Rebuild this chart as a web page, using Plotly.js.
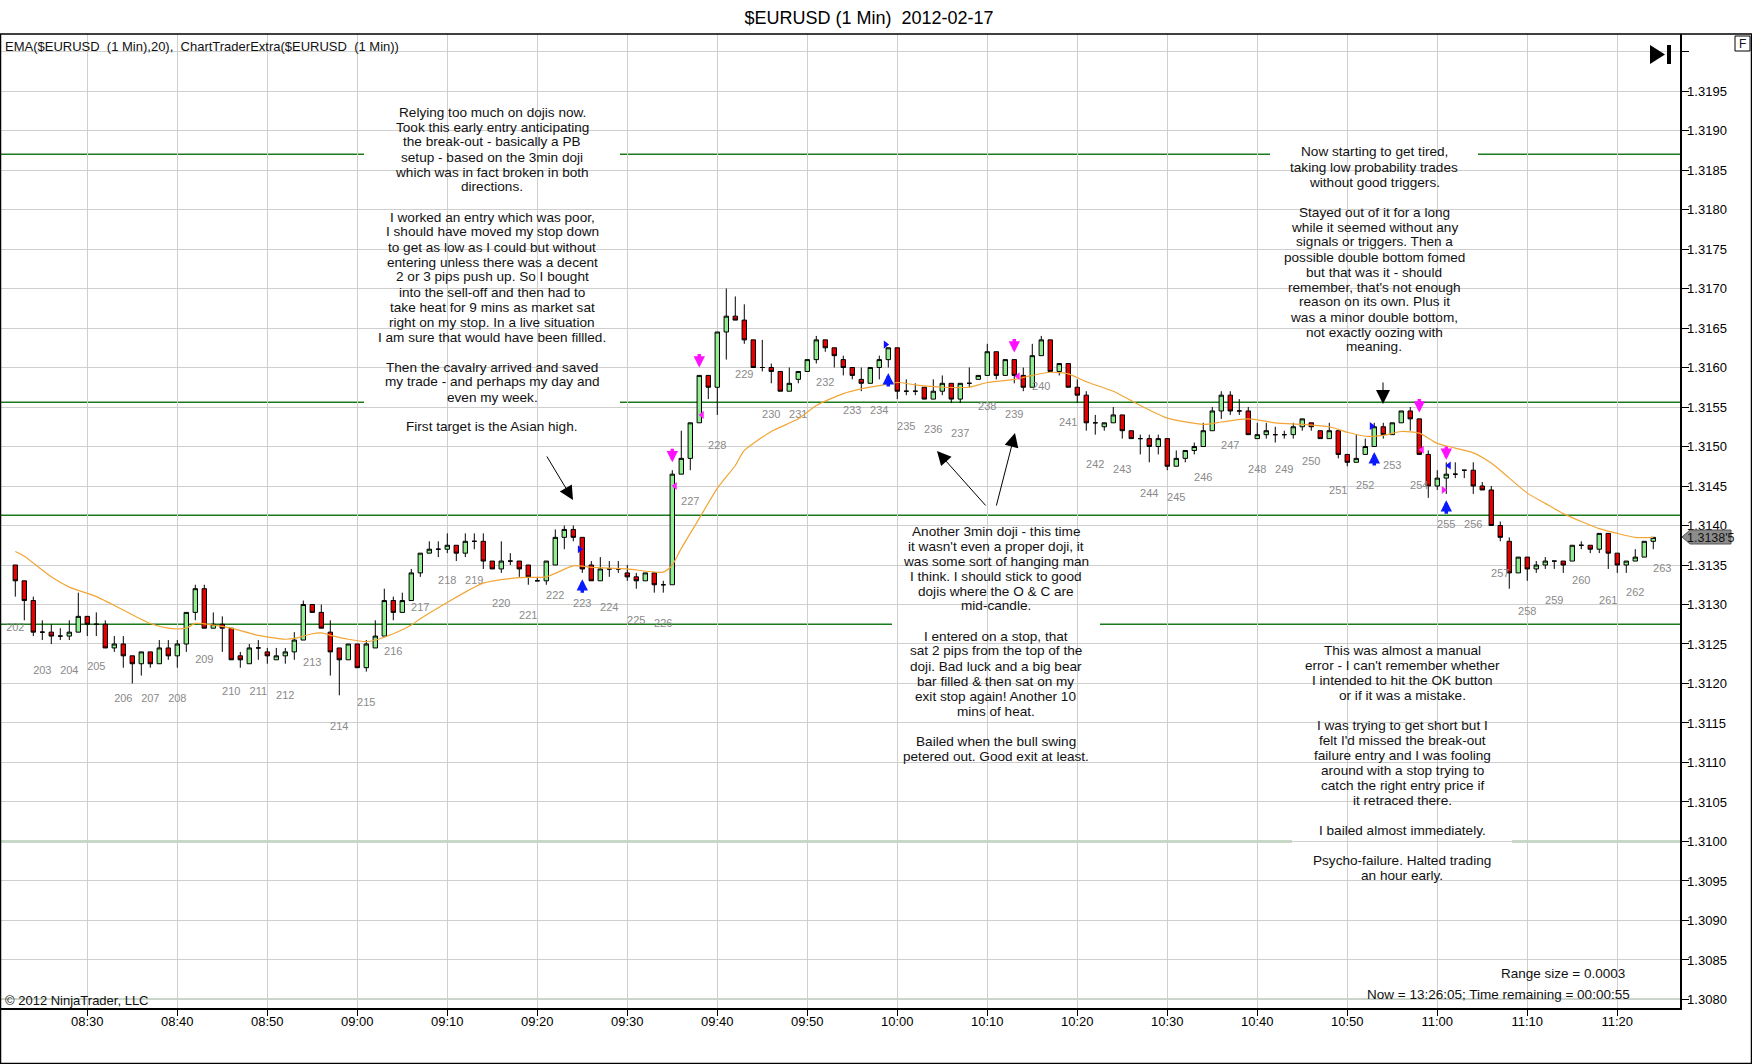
<!DOCTYPE html>
<html>
<head>
<meta charset="utf-8">
<script src="https://cdn.plot.ly/plotly-3.0.1.min.js"></script>
<style>
  html, body { margin: 0; padding: 0; background: #ffffff; }
  #chart { width: 1752px; height: 1064px; }
</style>
</head>
<body>
<div id="chart"></div>
<script>
// ---------------- DATA ----------------
const sessionDate = '2012-02-17';
const firstBarTime = '08:22';           // time of first 1-min bar
const openP = [
1.3135,1.3133,1.31305,1.31265,1.31265,1.3126,1.3126,1.31265,1.31285,1.31275,
1.31275,1.31245,1.3125,1.31235,1.31225,1.3124,1.31225,1.31245,1.31235,1.3125,
1.3129,1.3132,1.3127,1.31275,1.3127,1.31235,1.31225,1.31245,1.3124,1.3123,
1.31235,1.3124,1.31255,1.313,1.3129,1.31265,1.31245,1.3123,1.3125,1.3122,
1.31245,1.3126,1.31305,1.3129,1.31305,1.3134,1.31365,1.3137,1.3137,1.31375,
1.31365,1.3138,1.3138,1.31355,1.31345,1.31355,1.31355,1.3135,1.3133,1.3133,
1.3135,1.31385,1.31395,1.31385,1.3135,1.3133,1.31345,1.31345,1.3134,1.31335,
1.3133,1.3134,1.31325,1.31325,1.31465,1.31485,1.3153,1.3159,1.31575,1.31645,
1.31665,1.3166,1.31635,1.316,1.316,1.31595,1.3157,1.31585,1.31595,1.3161,
1.31635,1.31625,1.3161,1.316,1.31585,1.3158,1.316,1.3161,1.31625,1.3157,
1.3157,1.31575,1.3156,1.3157,1.3158,1.3156,1.3158,1.31585,1.3159,1.3162,
1.3159,1.3161,1.3159,1.31575,1.31615,1.31635,1.31595,1.31605,1.31575,1.31565,
1.3153,1.31525,1.3153,1.3154,1.3152,1.3151,1.3151,1.315,1.3151,1.31475,
1.31485,1.31495,1.315,1.3152,1.31545,1.31565,1.31545,1.31545,1.3151,1.31515,
1.31515,1.31515,1.31515,1.31525,1.3153,1.3152,1.3151,1.3152,1.3149,1.3148,
1.3149,1.315,1.31525,1.31515,1.3153,1.31545,1.31535,1.3149,1.3145,1.3146,
1.31465,1.3147,1.3147,1.3145,1.31445,1.314,1.3138,1.3134,1.3136,1.31345,
1.3135,1.31355,1.31355,1.31355,1.31375,1.31375,1.3137,1.3139,1.31365,1.3135,
1.31355,1.3136,1.3138];
const highP = [
1.3135,1.3133,1.3131,1.3128,1.31275,1.3127,1.3128,1.31315,1.31285,1.3129,
1.3128,1.3126,1.3126,1.31235,1.3124,1.3124,1.31255,1.31255,1.31255,1.3129,
1.31325,1.31325,1.3129,1.31285,1.3127,1.3124,1.3125,1.31255,1.31245,1.31245,
1.31245,1.31265,1.31305,1.313,1.313,1.3128,1.31245,1.3125,1.3125,1.31255,
1.3128,1.3132,1.3131,1.31315,1.31345,1.31365,1.3138,1.3138,1.3139,1.31375,
1.3139,1.3139,1.3139,1.31355,1.3138,1.31365,1.31355,1.3135,1.31335,1.31355,
1.31395,1.314,1.314,1.31385,1.31355,1.3136,1.31355,1.31355,1.3135,1.3134,
1.3134,1.3134,1.3133,1.3147,1.3152,1.3153,1.3159,1.3159,1.31645,1.317,
1.3169,1.3168,1.31635,1.31635,1.31605,1.31595,1.316,1.31595,1.3161,1.3164,
1.31635,1.31625,1.31615,1.316,1.316,1.316,1.31615,1.31625,1.31625,1.31585,
1.3158,1.31575,1.31585,1.3159,1.3158,1.3158,1.316,1.3159,1.3163,1.3162,
1.3161,1.3161,1.316,1.3163,1.3164,1.31635,1.31605,1.31605,1.31585,1.3157,
1.3154,1.3153,1.3155,1.3154,1.3152,1.31515,1.31515,1.31515,1.3151,1.31495,
1.31495,1.31505,1.3153,1.3155,1.3157,1.3157,1.3156,1.3155,1.3153,1.3153,
1.31525,1.3152,1.3153,1.31535,1.3153,1.3152,1.3153,1.3152,1.3149,1.31515,
1.3151,1.3153,1.3153,1.3153,1.31545,1.3155,1.31535,1.31495,1.3147,1.3148,
1.3148,1.3147,1.3148,1.31455,1.3145,1.31405,1.31385,1.3136,1.3136,1.31355,
1.3136,1.31355,1.31355,1.31375,1.3138,1.31375,1.3139,1.3139,1.31365,1.31355,
1.3137,1.3138,1.31385];
const lowP = [
1.3131,1.3128,1.3126,1.31255,1.3125,1.31255,1.31255,1.31265,1.3126,1.3126,
1.31245,1.3124,1.3122,1.312,1.3121,1.3122,1.31225,1.3123,1.3122,1.3124,
1.3128,1.3127,1.3127,1.3124,1.3123,1.3122,1.31225,1.3123,1.31225,1.3123,
1.31225,1.3123,1.31255,1.3129,1.3127,1.3121,1.31185,1.3123,1.3122,1.31215,
1.31245,1.3126,1.3128,1.3129,1.31305,1.31335,1.31365,1.3136,1.31365,1.31355,
1.3136,1.3137,1.31345,1.31345,1.3134,1.3135,1.31335,1.31325,1.3133,1.31325,
1.3135,1.3137,1.3138,1.3134,1.3133,1.3133,1.31335,1.3134,1.3133,1.3132,
1.3133,1.31315,1.31315,1.31325,1.31465,1.3147,1.3153,1.3156,1.3154,1.3161,
1.3166,1.3163,1.316,1.31595,1.3158,1.3157,1.3157,1.3158,1.31595,1.31605,
1.3162,1.316,1.3159,1.31585,1.3157,1.3158,1.31585,1.316,1.3156,1.31565,
1.31565,1.3156,1.3156,1.31565,1.31555,1.31555,1.31575,1.31585,1.3159,1.31585,
1.3159,1.3158,1.3157,1.31575,1.31615,1.31595,1.3159,1.31575,1.31555,1.3152,
1.31515,1.3152,1.3153,1.3151,1.3151,1.3149,1.3148,1.3149,1.3147,1.31475,
1.3148,1.3149,1.315,1.3152,1.31535,1.3154,1.3154,1.31515,1.3151,1.3151,
1.31505,1.3151,1.3151,1.3152,1.3152,1.3151,1.3151,1.31485,1.31475,1.3148,
1.3149,1.315,1.3151,1.31515,1.3153,1.3152,1.3149,1.31435,1.31445,1.3144,
1.3146,1.3146,1.3144,1.31445,1.314,1.3138,1.3132,1.3134,1.3133,1.3134,
1.31345,1.31345,1.3134,1.31355,1.3137,1.31365,1.31365,1.31345,1.3134,1.3134,
1.31355,1.3136,1.3137];
const closeP = [
1.3133,1.31305,1.31265,1.31265,1.3126,1.3126,1.31265,1.31285,1.31275,1.31275,
1.31245,1.3125,1.31235,1.31225,1.3124,1.31225,1.31245,1.31235,1.3125,1.3129,
1.3132,1.3127,1.31275,1.3127,1.3123,1.3123,1.31245,1.31245,1.31235,1.31235,
1.3124,1.31255,1.313,1.3129,1.3127,1.3124,1.3123,1.3125,1.3122,1.3125,
1.3126,1.31305,1.3129,1.31305,1.3134,1.31365,1.3137,1.3137,1.31375,1.31365,
1.3138,1.3138,1.31355,1.31345,1.31355,1.31355,1.31345,1.31335,1.3133,1.31355,
1.31385,1.31395,1.31385,1.31345,1.3133,1.31345,1.31345,1.31345,1.31335,1.3133,
1.3134,1.31325,1.31325,1.31465,1.31485,1.3153,1.3159,1.31575,1.31645,1.31665,
1.3166,1.31635,1.316,1.316,1.31595,1.3157,1.3158,1.31595,1.3161,1.31635,
1.31625,1.31615,1.316,1.3159,1.3158,1.316,1.3161,1.31625,1.3157,1.3157,
1.3157,1.3156,1.3157,1.3158,1.3156,1.3158,1.3158,1.3159,1.3162,1.3159,
1.3161,1.3159,1.31575,1.31615,1.31635,1.31595,1.31605,1.31575,1.31565,1.3153,
1.3153,1.3153,1.3154,1.3152,1.3151,1.3151,1.315,1.3151,1.31475,1.31485,
1.31495,1.315,1.3152,1.31545,1.31565,1.31545,1.31545,1.31515,1.31515,1.3152,
1.31515,1.31515,1.31525,1.31535,1.31525,1.3151,1.3152,1.3149,1.3148,1.31485,
1.315,1.31525,1.31515,1.3153,1.31545,1.31535,1.3149,1.3145,1.3146,1.31465,
1.31465,1.3147,1.3145,1.31445,1.314,1.31385,1.3134,1.3136,1.31345,1.3135,
1.31355,1.31355,1.3135,1.31375,1.31375,1.3137,1.3139,1.31365,1.3135,1.31355,
1.3136,1.3138,1.31385];

// EMA(20): bar offset (minutes from first bar) and value
const emaBar = [0,1,4,6,9,12,15,17,18,19,20,22,24,27,30,31,33,34,35,37,39,40,42,44,45,52,56,59,62,64,68,72,73,74,76,78,80,81,84,87,89,92,94,96,98,100,103,106,108,111,113,115,117,119,122,125,128,132,134,137,140,143,146,148,150,152,154,156,158,160,162,164,166,168,170,172,174,176,178,180,182];
const emaVal = [1.31367,1.31361,1.31335,1.31322,1.3131,1.31293,1.31276,1.3127,1.31269,1.3127,1.31276,1.31274,1.3127,1.31261,1.31256,1.31257,1.31263,1.31264,1.31261,1.31256,1.31253,1.31255,1.31263,1.31274,1.31282,1.31327,1.31334,1.31335,1.31349,1.31347,1.31345,1.31341,1.3135,1.31371,1.31409,1.31447,1.31476,1.31495,1.31519,1.31535,1.31552,1.31567,1.31573,1.31577,1.31581,1.31578,1.31575,1.31575,1.31581,1.31585,1.3159,1.31594,1.31592,1.31582,1.3157,1.31552,1.31536,1.31528,1.31531,1.31535,1.3153,1.31528,1.31525,1.31518,1.31513,1.31514,1.31519,1.31517,1.31504,1.31498,1.31492,1.31479,1.3146,1.31441,1.31428,1.31415,1.31405,1.31396,1.3139,1.31385,1.31385];

// Bar counter labels (every 3rd bar) and the price level they sit at
const countLabels = [202,203,204,205,206,207,208,209,210,211,212,213,214,215,216,217,218,219,220,221,222,223,224,225,226,227,228,229,230,231,232,233,234,235,236,237,238,239,240,241,242,243,244,245,246,247,248,249,250,251,252,253,254,255,256,257,258,259,260,261,262,263];
const countLabelY = [1.3127,1.31215,1.31215,1.3122,1.3118,1.3118,1.3118,1.3123,1.31189,1.31189,1.31184,1.31225,1.31144,1.31175,1.31239,1.31295,1.3133,1.3133,1.3130,1.31285,1.3131,1.3130,1.31295,1.31279,1.31275,1.31429,1.3150,1.3159,1.3154,1.3154,1.3158,1.31545,1.31545,1.31525,1.3152,1.31515,1.3155,1.3154,1.31575,1.31529,1.31476,1.3147,1.3144,1.31435,1.3146,1.3150,1.3147,1.3147,1.3148,1.31444,1.3145,1.31475,1.3145,1.3140,1.3140,1.31338,1.3129,1.31304,1.3133,1.31304,1.31314,1.31344];

// Horizontal price levels drawn on the chart
const levels = [1.3187, 1.31556, 1.31413, 1.31275, 1.3100, 1.3080];

// Trade signal markers (bar offset, price)
const shortArrowBar = [73, 76, 111, 156, 159];
const shortArrowY   = [1.3148, 1.3160, 1.31619, 1.31543, 1.31483];
const longArrowBar  = [63, 97, 151, 159];
const longArrowY    = [1.31332, 1.31593, 1.31493, 1.31432];
const blueFlagBar = [62.7, 96.7, 150.7]; const blueFlagY = [1.3137, 1.31629, 1.31526];
const blueFlagLBar = [159.3]; const blueFlagLY = [1.31476];
const pinkFlagLBar = [76.3, 73.3, 111.4, 156.3]; const pinkFlagLY = [1.3154, 1.3145, 1.31589, 1.31496];
const pinkFlagRBar = [158.7]; const pinkFlagRY = [1.31445];

// Y tick values
const yTicks = [1.3080,1.3085,1.3090,1.3095,1.3100,1.3105,1.3110,1.3115,1.3120,1.3125,1.3130,1.3135,1.3140,1.3145,1.3150,1.3155,1.3160,1.3165,1.3170,1.3175,1.3180,1.3185,1.3190,1.3195,1.3200];
const yTickText = ['1.3080','1.3085','1.3090','1.3095','1.3100','1.3105','1.3110','1.3115','1.3120','1.3125','1.3130','1.3135','1.3140','1.3145','1.3150','1.3155','1.3160','1.3165','1.3170','1.3175','1.3180','1.3185','1.3190','1.3195',''];

const lastPriceText = "1.3138'5";

const note1 = ['Relying too much on dojis now.','Took this early entry anticipating','the break-out - basically a PB','setup - based on the 3min doji','which was in fact broken in both','directions.','',"I worked an entry which was poor,",'I should have moved my stop down','to get as low as I could but without','entering unless there was a decent','2 or 3 pips push up. So I bought','into the sell-off and then had to','take heat for 9 mins as market sat','right on my stop. In a live situation','I am sure that would have been fillled.','','Then the cavalry arrived and saved','my trade - and perhaps my day and','even my week.','','First target is the Asian high.'];
const note2 = ['Now starting to get tired,','taking low probability trades','without good triggers.','','Stayed out of it for a long','while it seemed without any','signals or triggers. Then a','possible double bottom fomed','but that was it - should',"remember, that's not enough",'reason on its own. Plus it','was a minor double bottom,','not exactly oozing with','meaning.'];
const note3 = ['Another 3min doji - this time',"it wasn't even a proper doji, it",'was some sort of hanging man','I think. I should stick to good','dojis where the O & C are','mid-candle.','','I entered on a stop, that','sat 2 pips from the top of the','doji. Bad luck and a big bear','bar filled & then sat on my','exit stop again! Another 10','mins of heat.','','Bailed when the bull swing','petered out. Good exit at least.'];
const note4 = ['This was almost a manual',"error - I can't remember whether",'I intended to hit the OK button','or if it was a mistake.','','I was trying to get short but I',"felt I'd missed the break-out",'failure entry and I was fooling','around with a stop trying to','catch the right entry price if','it retraced there.','','I bailed almost immediately.','','Psycho-failure. Halted trading','an hour early.'];

// ---------------- HELPERS ----------------
const baseMs = Date.parse(sessionDate + 'T' + firstBarTime + ':00Z');
function tAt(k) { // k minutes after first bar -> plotly date string
  return new Date(baseMs + k * 60000).toISOString().slice(0, 23).replace('T', ' ');
}
const barTimes = openP.map((_, i) => tAt(i));

const FONT = 'Arial, "Liberation Sans", sans-serif';
const L = 1, R = 1680, T = 34, B = 1008;
const px = x => (x - L) / (R - L);
const py = y => (B - y) / (B - T);

// ---------------- TRACES ----------------
const traces = [];
traces.push({
  type: 'scatter', mode: 'text',
  x: countLabels.map((_, i) => tAt(3 * i)), y: countLabelY,
  text: countLabels.map(String),
  textfont: { family: FONT, size: 11, color: '#8a8a8a' },
  hoverinfo: 'skip', cliponaxis: false
});
traces.push({
  type: 'scatter', mode: 'lines',
  x: emaBar.map(tAt), y: emaVal,
  line: { color: '#f2a535', width: 1.2, shape: 'spline', smoothing: 0.6 },
  hoverinfo: 'skip'
});
traces.push({
  type: 'candlestick',
  x: barTimes, open: openP, high: highP, low: lowP, close: closeP,
  increasing: { line: { color: '#000000', width: 1 }, fillcolor: '#90ee90' },
  decreasing: { line: { color: '#000000', width: 1 }, fillcolor: '#e60000' },
  whiskerwidth: 0, hoverinfo: 'skip'
});
traces.push({
  type: 'scatter', mode: 'markers', x: blueFlagBar.map(tAt), y: blueFlagY,
  marker: { symbol: 'triangle-right', size: 7, color: '#1010ff' }, hoverinfo: 'skip'
});
traces.push({
  type: 'scatter', mode: 'markers', x: blueFlagLBar.map(tAt), y: blueFlagLY,
  marker: { symbol: 'triangle-left', size: 7, color: '#1010ff' }, hoverinfo: 'skip'
});
traces.push({
  type: 'scatter', mode: 'markers', x: pinkFlagLBar.map(tAt), y: pinkFlagLY,
  marker: { symbol: 'triangle-left', size: 7, color: '#ff22ff' }, hoverinfo: 'skip'
});
traces.push({
  type: 'scatter', mode: 'markers', x: pinkFlagRBar.map(tAt), y: pinkFlagRY,
  marker: { symbol: 'triangle-right', size: 7, color: '#ff22ff' }, hoverinfo: 'skip'
});

// ---------------- SHAPES ----------------
const shapes = [];
levels.forEach(lv => shapes.push({
  type: 'line', xref: 'paper', x0: 0, x1: 1, yref: 'y', y0: lv, y1: lv,
  line: { color: '#1b7a1b', width: 1.3 }, layer: 'between'
}));
[[364, 620, 103, 438], [1270, 1478, 143, 357], [892, 1100, 521, 768], [1292, 1512, 640, 885]].forEach(b => shapes.push({
  type: 'rect', xref: 'paper', yref: 'paper',
  x0: px(b[0]), x1: px(b[1]), y0: py(b[3]), y1: py(b[2]),
  fillcolor: '#ffffff', line: { width: 0 }, layer: 'between'
}));
// outer frame
shapes.push({ type: 'rect', xref: 'paper', yref: 'paper', x0: px(0.5), x1: px(1751.5), y0: py(1063.5), y1: py(34),
  line: { color: '#000000', width: 1.5 }, fillcolor: 'rgba(0,0,0,0)', layer: 'above' });
// play-to-end icon
shapes.push({ type: 'path', xref: 'paper', yref: 'paper',
  path: `M ${px(1650)} ${py(45)} L ${px(1650)} ${py(64)} L ${px(1665)} ${py(54.5)} Z`,
  fillcolor: '#000000', line: { width: 0 } });
shapes.push({ type: 'rect', xref: 'paper', yref: 'paper', x0: px(1667), x1: px(1671), y0: py(64), y1: py(45),
  fillcolor: '#000000', line: { width: 0 } });
// F box
shapes.push({ type: 'rect', xref: 'paper', yref: 'paper', x0: px(1735), x1: px(1750), y0: py(51), y1: py(36),
  fillcolor: '#ffffff', line: { color: '#000000', width: 1 } });
// last price marker pointer
shapes.push({ type: 'path', xref: 'paper', yref: 'paper',
  path: `M ${px(1682)} ${py(537)} L ${px(1690)} ${py(530)} L ${px(1731)} ${py(530)} L ${px(1731)} ${py(544)} L ${px(1690)} ${py(544)} Z`,
  fillcolor: '#8c8c8c', line: { color: '#555555', width: 1 } });

// ---------------- ANNOTATIONS ----------------
const ann = [];
function noteBlock(lines, cx, y0) {
  lines.forEach((s, i) => {
    if (!s) return;
    ann.push({ xref: 'paper', yref: 'paper', x: px(cx), y: py(y0 + 15 * i), text: s,
      showarrow: false, xanchor: 'center', yanchor: 'middle',
      font: { family: FONT, size: 13.6, color: '#111111' } });
  });
}
noteBlock(note1, 492, 112);
noteBlock(note2, 1374, 152);
noteBlock(note3, 996, 531);
noteBlock(note4, 1402, 650);

function txt(s, x, y, anchor, size) {
  ann.push({ xref: 'paper', yref: 'paper', x: px(x), y: py(y), text: s, showarrow: false,
    xanchor: anchor, yanchor: 'middle', font: { family: FONT, size: size || 13, color: '#111111' } });
}
txt('EMA($EURUSD  (1 Min),20),  ChartTraderExtra($EURUSD  (1 Min))', 3, 47, 'left', 13);
txt('© 2012 NinjaTrader, LLC', 3, 1000, 'left', 13);
txt('Range size = 0.0003', 1627, 973, 'right', 13.5);
txt('Now = 13:26:05; Time remaining = 00:00:55', 1632, 994, 'right', 13.5);
txt('F', 1742.5, 44, 'center', 12);
txt(lastPriceText, 1710.5, 537.5, 'center', 12.5);

// black explanatory arrows (tip pixel, tail offset)
function blackArrow(tx, ty, ax, ay, size) {
  ann.push({ xref: 'paper', yref: 'paper', x: px(tx), y: py(ty), ax: ax, ay: ay, text: '',
    showarrow: true, arrowhead: 2, arrowsize: size, arrowwidth: 1, arrowcolor: '#000000', standoff: 0 });
}
blackArrow(573, 500, -27, -45, 2.8);
blackArrow(937, 451, 50, 56, 2.8);
blackArrow(1015, 433, -19, 74, 2.8);
blackArrow(1383, 404, 0, -23, 2.8);

// signal arrows
shortArrowBar.forEach((b, i) => ann.push({ x: tAt(b), y: shortArrowY[i], xref: 'x', yref: 'y', ax: 0, ay: -15, text: '',
  showarrow: true, arrowhead: 2, arrowsize: 0.65, arrowwidth: 3.5, arrowcolor: '#ff10ff', standoff: 0 }));
longArrowBar.forEach((b, i) => ann.push({ x: tAt(b), y: longArrowY[i], xref: 'x', yref: 'y', ax: 0, ay: 15, text: '',
  showarrow: true, arrowhead: 2, arrowsize: 0.65, arrowwidth: 3.5, arrowcolor: '#0a1aff', standoff: 0 }));

// ---------------- LAYOUT ----------------
const layout = {
  width: 1752, height: 1064,
  margin: { l: L, r: 1752 - R, t: T, b: 1064 - B, pad: 0 },
  paper_bgcolor: '#ffffff', plot_bgcolor: '#ffffff',
  showlegend: false, hovermode: false,
  font: { family: FONT, size: 13, color: '#000000' },
  title: { text: '$EURUSD (1 Min)  2012-02-17', x: 869 / 1752, xanchor: 'center', xref: 'container',
    y: 1 - 18 / 1064, yanchor: 'middle', yref: 'container', font: { family: FONT, size: 18, color: '#000000' } },
  xaxis: {
    type: 'date', range: [tAt(-1.59), tAt(184.97)],
    tickformat: '%H:%M', dtick: 600000, tick0: sessionDate + ' 08:30',
    ticks: 'outside', ticklen: 6, tickcolor: '#000000', ticklabelstandoff: -5,
    showline: true, linecolor: '#000000', linewidth: 1.5,
    showgrid: true, gridcolor: '#cfcfcf', gridwidth: 1,
    zeroline: false, rangeslider: { visible: false },
    tickfont: { family: FONT, size: 13, color: '#000000' }, fixedrange: true
  },
  yaxis: {
    side: 'right', range: [1.307892, 1.320222],
    tickmode: 'array', tickvals: yTicks, ticktext: yTickText,
    ticks: 'outside', ticklen: 7, tickcolor: '#000000', ticklabelstandoff: -4,
    showline: true, linecolor: '#000000', linewidth: 1.5,
    showgrid: true, gridcolor: '#cfcfcf', gridwidth: 1, zeroline: false,
    tickfont: { family: FONT, size: 13, color: '#000000' }, fixedrange: true
  },
  shapes: shapes,
  annotations: ann
};

Plotly.newPlot('chart', traces, layout, { staticPlot: true, displayModeBar: false });
</script>
</body>
</html>
